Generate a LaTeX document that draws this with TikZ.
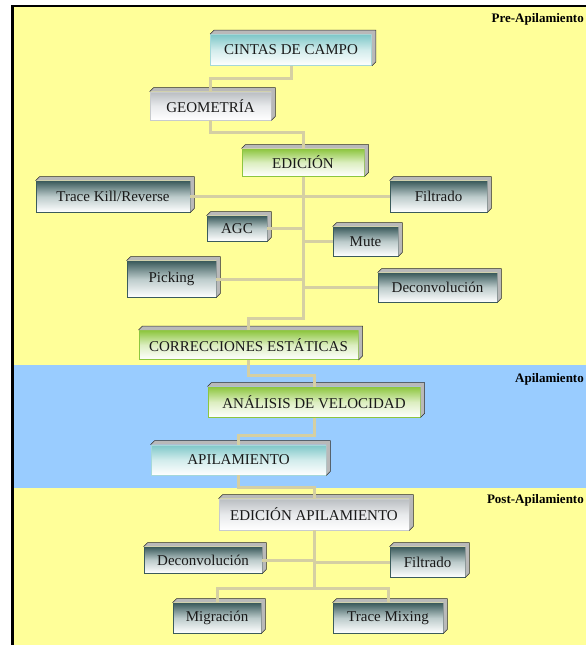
\documentclass[tikz,border=0pt]{standalone}
\usepackage{fontspec}
\setmainfont{Liberation Serif}

\definecolor{bandyellow}{HTML}{FFFF99}
\definecolor{bandblue}{HTML}{99CCFF}
\definecolor{linktan}{HTML}{D5CFA3}
\definecolor{slatetop}{HTML}{3B5B5C}
\definecolor{slatemid}{HTML}{BCCBCB}
\definecolor{greentop}{HTML}{8DC63F}
\definecolor{greenmid}{HTML}{DCEEC0}
\definecolor{cyantop}{HTML}{7EC7C8}
\definecolor{cyanmid}{HTML}{D2ECEC}
\definecolor{graytop}{HTML}{BABEC2}
\definecolor{graymid}{HTML}{E8EAEC}

\begin{document}
\begin{tikzpicture}[x=1pt,y=-1pt]
    \tikzstyle{every node}=[font=\fontsize{15}{17}\selectfont, text=black!90]
    \tikzstyle{box}=[rectangle, inner sep=0pt, line width=0.8pt]
    \tikzstyle{darkbox}=[box, draw=slatetop, top color=slatetop, bottom color=white, middle color=slatemid]
    \tikzstyle{greenbox}=[box, draw=greentop, line width=1pt, top color=greentop, bottom color=white, middle color=greenmid]
    \tikzstyle{cyanbox}=[box, draw=cyantop!70, top color=cyantop, bottom color=white, middle color=cyanmid]
    \tikzstyle{graybox}=[box, draw=graytop!80, top color=graytop, bottom color=white, middle color=graymid]
    \tikzstyle{side}=[fill=gray!55]
    \tikzstyle{sideedge}=[draw=gray!35!black, line width=0.5pt]
    \tikzstyle{link}=[draw=linktan, line width=3pt]
    \tikzstyle{stage}=[font=\bfseries\fontsize{13}{15}\selectfont, text=black, anchor=base east, inner sep=0pt]

    \useasboundingbox (0,0) rectangle (586,645);
    \fill[bandyellow] (14,7) rectangle (586,645);
    \fill[bandblue] (14,365) rectangle (586,488);
    \fill[black] (11,5) rectangle (586,7);
    \fill[black] (11,5) rectangle (14,645);

    \node[stage] (pre)  at (584,23)  {Pre-Apilamiento};
    \node[stage] (api)  at (584,382) {Apilamiento};
    \node[stage] (post) at (584,503) {Post-Apilamiento};

    \node[cyanbox, minimum width=161pt, minimum height=31pt]  (cintas) at (291,50)      {CINTAS DE CAMPO};
    \node[graybox, minimum width=121pt, minimum height=28pt]  (geom)   at (210.5,106)   {GEOMETRÍA};
    \node[greenbox, minimum width=122pt, minimum height=27pt] (edicion) at (303,162.5)  {EDICIÓN};
    \node[darkbox, minimum width=154pt, minimum height=31pt]  (tkill)  at (113,196.5)   {Trace Kill/Reverse};
    \node[darkbox, minimum width=97pt, minimum height=31pt]   (filt)   at (438.5,196.5) {Filtrado};
    \node[darkbox, minimum width=60pt, minimum height=25pt]   (agc)    at (237,228.5)   {AGC};
    \node[darkbox, minimum width=65pt, minimum height=29pt]   (mute)   at (365.5,241.5) {Mute};
    \node[darkbox, minimum width=89pt, minimum height=36pt]   (pick)   at (171.5,279)   {Picking};
    \node[darkbox, minimum width=119pt, minimum height=29pt]  (decon)  at (437.5,287.5) {Deconvolución};
    \node[greenbox, minimum width=219pt, minimum height=29pt] (estat)  at (248.5,345)   {CORRECCIONES ESTÁTICAS};
    \node[greenbox, minimum width=212pt, minimum height=30pt] (velo)   at (314,402)     {ANÁLISIS DE VELOCIDAD};
    \node[cyanbox, minimum width=175pt, minimum height=30pt]  (apil)   at (238.5,460)   {APILAMIENTO};
    \node[graybox, minimum width=190pt, minimum height=31pt]  (edapil) at (314,514.5)   {EDICIÓN APILAMIENTO};
    \node[darkbox, minimum width=118pt, minimum height=26pt]  (pdecon) at (203,560)     {Deconvolución};
    \node[darkbox, minimum width=75pt, minimum height=30pt]   (pfilt)  at (427.5,562)   {Filtrado};
    \node[darkbox, minimum width=88pt, minimum height=30pt]   (migr)   at (217,618)     {Migración};
    \node[darkbox, minimum width=110pt, minimum height=30pt]  (tmix)   at (388,618)     {Trace Mixing};

    \foreach \b in {cintas,geom,edicion,tkill,filt,agc,mute,pick,decon,estat,velo,apil,edapil,pdecon,pfilt,migr,tmix}{
        \fill[side] (\b.north west) -- ([shift={(4,-4)}]\b.north west) -- ([shift={(4,-4)}]\b.north east)
            -- ([shift={(4,-4)}]\b.south east) -- (\b.south east) -- (\b.north east) -- cycle;
        \draw[sideedge] (\b.north west) -- ([shift={(4,-4)}]\b.north west) -- ([shift={(4,-4)}]\b.north east)
            -- ([shift={(4,-4)}]\b.south east) -- (\b.south east);
    }

    \draw[link] (cintas.south) -- ++(0,13) -| (geom.north);
    \draw[link] (geom.south) -- ++(0,12) -| (edicion.north);
    \draw[link] (edicion.south) -- ++(0,142) -| (estat.north);
    \draw[link] (tkill.east) -- (tkill.east -| edicion.south);
    \draw[link] (filt.west) -- (filt.west -| edicion.south);
    \draw[link] (agc.east) -- (agc.east -| edicion.south);
    \draw[link] (mute.west) -- (mute.west -| edicion.south);
    \draw[link] (pick.east) -- (pick.east -| edicion.south);
    \draw[link] (decon.west) -- (decon.west -| edicion.south);
    \draw[link] (estat.south) -- ++(0,15.5) -| (velo.north);
    \draw[link] (velo.south) -- ++(0,18) -| (apil.north);
    \draw[link] (apil.south) -- ++(0,12) -| (edapil.north);
    \draw[link] (edapil.south) -- ++(0,58) coordinate (fork);
    \draw[link] (migr.north) |- (fork) -| (tmix.north);
    \draw[link] (pdecon.east) -- (pdecon.east -| edapil.south);
    \draw[link] (pfilt.west) -- (pfilt.west -| edapil.south);
\end{tikzpicture}
\end{document}
